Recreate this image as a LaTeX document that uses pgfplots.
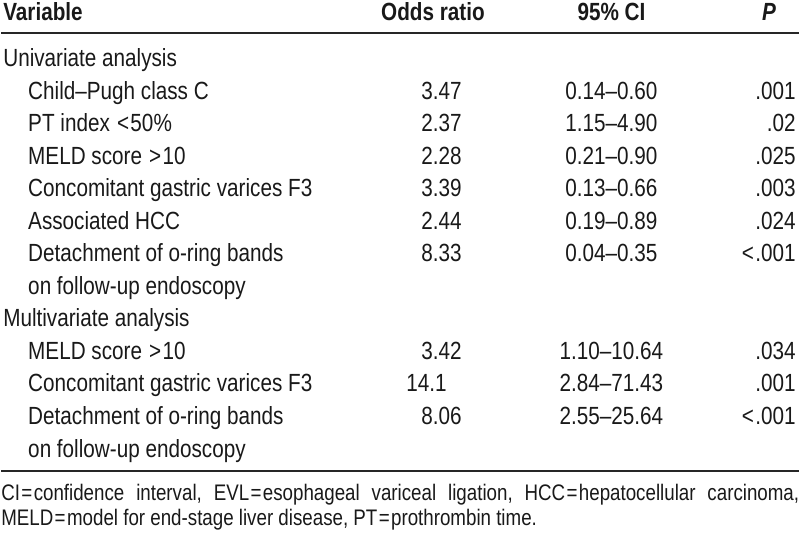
\documentclass[border=0pt]{standalone}
\usepackage{fontspec}
\setmainfont{Liberation Sans}[FakeStretch=0.833]
\usepackage{pgfplots}
\usepackage{pgfplotstable}
\pgfplotsset{compat=1.18}

% Variable column: x (left edge), y (baseline), label
\pgfplotstableread[col sep=semicolon]{
x;y;label
2;67;Univariate analysis
27;99.6;Child–Pugh class C
27;132.2;PT index \kern1pt<\kern1pt50\%
27;164.8;MELD score \kern1pt>\kern1pt10
27;197.4;Concomitant gastric varices F3
27;230;Associated HCC
27;262.6;Detachment of o-ring bands
27;295.2;on follow-up endoscopy
2;327.8;Multivariate analysis
27;360.4;MELD score \kern1pt>\kern1pt10
27;393;Concomitant gastric varices F3
27;425.6;Detachment of o-ring bands
27;458.2;on follow-up endoscopy
}\varcol

% Odds ratio column: x (right edge), y (baseline), value
\pgfplotstableread[col sep=semicolon]{
x;y;label
462;99.6;3.47
462;132.2;2.37
462;164.8;2.28
462;197.4;3.39
462;230;2.44
462;262.6;8.33
462;360.4;3.42
447;393;14.1
462;425.6;8.06
}\orcol

% 95% CI column: x (centre), y (baseline), interval
\pgfplotstableread[col sep=semicolon]{
x;y;label
612;99.6;0.14–0.60
612;132.2;1.15–4.90
612;164.8;0.21–0.90
612;197.4;0.13–0.66
612;230;0.19–0.89
612;262.6;0.04–0.35
612;360.4;1.10–10.64
612;393;2.84–71.43
612;425.6;2.55–25.64
}\cicol

% P column: x (right edge), y (baseline), value
\pgfplotstableread[col sep=semicolon]{
x;y;label
797;99.6;.001
797;132.2;.02
797;164.8;.025
797;197.4;.003
797;230;.024
797;262.6;<\kern1pt.001
797;360.4;.034
797;393;.001
797;425.6;<\kern1pt.001
}\pcol

\begin{document}
\begin{tikzpicture}
\begin{axis}[
  scale only axis, width=8in, height=5.41in,
  xmin=0, xmax=800, ymin=0, ymax=541, y dir=reverse,
  hide axis, clip=false,
  font=\fontsize{18}{21}\selectfont,
  every node near coord/.append style={inner sep=0pt, font=\fontsize{18}{21}\selectfont, text=black!90},
]
% invisible frame to fix bounding box
\addplot[draw=none] coordinates {(0,0) (800,541)};
% rules
\addplot[black!85, line width=1.5bp] coordinates {(0,33) (800,33)};
\addplot[black!85, line width=1.5bp] coordinates {(0,472) (800,472)};
% header
\addplot[draw=none, nodes near coords, point meta=explicit symbolic,
  every node near coord/.append style={anchor=base west, font=\fontsize{18}{21}\selectfont\bfseries}]
  table[meta=label] {x y label
2 20.5 Variable
};
\addplot[draw=none, nodes near coords, point meta=explicit symbolic,
  every node near coord/.append style={anchor=base, font=\fontsize{18}{21}\selectfont\bfseries}]
  table[col sep=semicolon, meta=label] {x;y;label
433;20.5;Odds ratio
612;20.5;95\% CI
};
\addplot[draw=none, nodes near coords, point meta=explicit symbolic,
  every node near coord/.append style={anchor=base, font=\fontsize{18}{21}\selectfont\bfseries\itshape}]
  table[meta=label] {x y label
770 20.5 P
};
% body columns
\addplot[draw=none, nodes near coords, point meta=explicit symbolic,
  every node near coord/.append style={anchor=base west}]
  table[x=x, y=y, meta=label] {\varcol};
\addplot[draw=none, nodes near coords, point meta=explicit symbolic,
  every node near coord/.append style={anchor=base east}]
  table[x=x, y=y, meta=label] {\orcol};
\addplot[draw=none, nodes near coords, point meta=explicit symbolic,
  every node near coord/.append style={anchor=base}]
  table[x=x, y=y, meta=label] {\cicol};
\addplot[draw=none, nodes near coords, point meta=explicit symbolic,
  every node near coord/.append style={anchor=base east}]
  table[x=x, y=y, meta=label] {\pcol};
% footnote
\node[anchor=base west, inner sep=0pt, text=black!90, font=\fontsize{16.3}{19}\selectfont] at (axis cs:0,502)
  {\hbox to 576bp{CI\kern1pt=\kern1pt confidence\hfill interval,\hfill EVL\kern1pt=\kern1pt esophageal\hfill variceal\hfill ligation,\hfill HCC\kern1pt=\kern1pt hepatocellular\hfill carcinoma,}};
\node[anchor=base west, inner sep=0pt, text=black!90, font=\fontsize{16.3}{19}\selectfont] at (axis cs:0,527)
  {MELD\kern1pt=\kern1pt model for end-stage liver disease, PT\kern1pt=\kern1pt prothrombin time.};
\end{axis}
\end{tikzpicture}
\end{document}
